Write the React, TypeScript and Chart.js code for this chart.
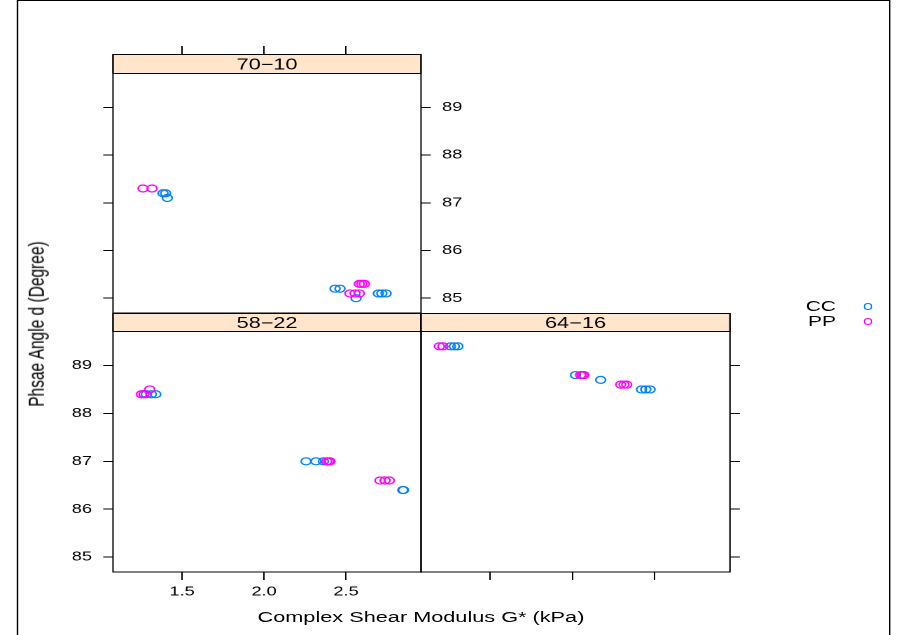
import React, { useEffect, useRef } from "react";
import { Chart, registerables } from "chart.js";

Chart.register(...registerables);

// ---------------- data ----------------
const panelNames = ["70\u221210", "58\u221222", "64\u221216"];
const seriesNames = ["CC", "PP"];
const seriesColors = ["#0080ff", "#ff00ff"];

const xTickValues = [1.5, 2.0, 2.5];
const xTickLabels = ["1.5", "2.0", "2.5"];
const yTickValues = [85, 86, 87, 88, 89];
const yTickLabels = ["85", "86", "87", "88", "89"];

const xRange = [1.079, 2.957];
const yRange = [84.69, 89.72];

const cc7010X = [1.384, 1.4, 1.41, 2.433, 2.463, 2.561, 2.697, 2.718, 2.744];
const cc7010Y = [87.2, 87.2, 87.1, 85.2, 85.2, 85.0, 85.1, 85.1, 85.1];
const pp7010X = [1.262, 1.317, 2.581, 2.596, 2.612, 2.524, 2.555, 2.581];
const pp7010Y = [87.3, 87.3, 85.3, 85.3, 85.3, 85.1, 85.1, 85.1];

const cc5822X = [1.282, 1.313, 1.34, 2.256, 2.317, 2.362, 2.846, 2.85];
const cc5822Y = [88.4, 88.4, 88.4, 87.0, 87.0, 87.0, 86.4, 86.4];
const pp5822X = [1.252, 1.268, 1.303, 2.382, 2.395, 2.402, 2.707, 2.738, 2.764];
const pp5822Y = [88.4, 88.4, 88.5, 87.0, 87.0, 87.0, 86.6, 86.6, 86.6];

const cc6416X = [1.258, 1.282, 1.303, 2.018, 2.171, 2.419, 2.445, 2.471];
const cc6416Y = [89.4, 89.4, 89.4, 88.8, 88.7, 88.5, 88.5, 88.5];
const pp6416X = [1.191, 1.212, 2.049, 2.06, 2.069, 2.293, 2.313, 2.329];
const pp6416Y = [89.4, 89.4, 88.8, 88.8, 88.8, 88.6, 88.6, 88.6];

// ---------------- layout ----------------
const SX = 1.4; // horizontal stretch of the whole figure
const W = 641;
const H = 635;
const FONT = '"Liberation Sans", Arial, Helvetica, sans-serif';
const TICK_X = 7; // horizontal tick length (internal px)
const TICK_Y = 8; // vertical tick length

type PanelCfg = {
  name: string;
  ccX: number[];
  ccY: number[];
  ppX: number[];
  ppY: number[];
  left: number;
  right: number;
  stripTop: number;
  stripBottom: number;
  bottom: number;
  xPos: "top" | "bottom";
  xLabels: boolean;
  yLeft: "none" | "ticks" | "labels";
  yRight: "none" | "ticks" | "labels";
};

const panels: PanelCfg[] = [
  {
    name: panelNames[0], ccX: cc7010X, ccY: cc7010Y, ppX: pp7010X, ppY: pp7010Y,
    left: 113, right: 421, stripTop: 54, stripBottom: 73, bottom: 313,
    xPos: "top", xLabels: false, yLeft: "ticks", yRight: "labels",
  },
  {
    name: panelNames[1], ccX: cc5822X, ccY: cc5822Y, ppX: pp5822X, ppY: pp5822Y,
    left: 113, right: 421, stripTop: 313, stripBottom: 331, bottom: 572,
    xPos: "bottom", xLabels: true, yLeft: "labels", yRight: "none",
  },
  {
    name: panelNames[2], ccX: cc6416X, ccY: cc6416Y, ppX: pp6416X, ppY: pp6416Y,
    left: 421, right: 730, stripTop: 313, stripBottom: 331, bottom: 572,
    xPos: "bottom", xLabels: false, yLeft: "none", yRight: "ticks",
  },
];

const stripPlugin = {
  id: "strip",
  afterDatasetsDraw(chart: any, _args: any, opts: any) {
    const { ctx, chartArea } = chart;
    const { left, right, top, bottom } = chartArea;
    const sh = opts.height;
    ctx.save();
    ctx.fillStyle = "#ffe5cc";
    ctx.fillRect(left, top, right - left, sh);
    ctx.strokeStyle = "#000";
    ctx.lineWidth = 1;
    ctx.strokeRect(left, top + 0.5, right - left, sh);
    ctx.strokeRect(left, top + 0.5, right - left, bottom - top - 0.5);
    ctx.fillStyle = "#000";
    ctx.font = `15.5px ${FONT}`;
    ctx.textAlign = "center";
    ctx.textBaseline = "middle";
    ctx.fillText(opts.text, (left + right) / 2, top + sh / 2 + 1.5);
    ctx.restore();
  },
};

function axisWidth(kind: string) {
  if (kind === "labels") return 44;
  if (kind === "ticks") return TICK_X;
  return 0;
}

function Panel({ cfg }: { cfg: PanelCfg }) {
  const ref = useRef<HTMLCanvasElement>(null);
  useEffect(() => {
    const canvas = ref.current!;
    const stripH = cfg.stripBottom - cfg.stripTop;
    const dataH = cfg.bottom - cfg.stripBottom;
    const yMax = yRange[1] + (stripH * (yRange[1] - yRange[0])) / dataH;
    const xH = cfg.xLabels ? 30 : TICK_Y;
    const leftPx = cfg.left / SX;
    const rightPx = cfg.right / SX;
    const padding = {
      left: leftPx - axisWidth(cfg.yLeft),
      right: W - rightPx - axisWidth(cfg.yRight),
      top: cfg.xPos === "top" ? cfg.stripTop - xH : cfg.stripTop,
      bottom: cfg.xPos === "bottom" ? H - cfg.bottom - xH : H - cfg.bottom,
    };
    const tickFont = { family: FONT, size: 13 };
    const yScale = (kind: string, position: "left" | "right") => ({
      type: "linear",
      position,
      display: kind !== "none",
      min: yRange[0],
      max: yMax,
      afterBuildTicks: (s: any) => {
        s.ticks = yTickValues.map((v) => ({ value: v }));
      },
      afterFit: (s: any) => {
        s.width = axisWidth(kind);
      },
      grid: {
        drawOnChartArea: false,
        drawTicks: true,
        tickLength: TICK_X,
        color: "#000",
        lineWidth: 1,
      },
      border: { display: false },
      ticks: {
        display: kind === "labels",
        color: "#000",
        font: tickFont,
        padding: 8,
        callback: (_v: any, i: number) => yTickLabels[i],
      },
    });
    const chart = new Chart(canvas, {
      type: "scatter",
      data: {
        datasets: [
          {
            label: seriesNames[0],
            data: cfg.ccX.map((x, i) => ({ x, y: cfg.ccY[i] })),
            borderColor: seriesColors[0],
            backgroundColor: "rgba(0,0,0,0)",
            pointBackgroundColor: "rgba(0,0,0,0)",
            pointBorderColor: seriesColors[0],
            pointRadius: 3.5,
            pointBorderWidth: 1.2,
            order: 1,
          },
          {
            label: seriesNames[1],
            data: cfg.ppX.map((x, i) => ({ x, y: cfg.ppY[i] })),
            borderColor: seriesColors[1],
            backgroundColor: "rgba(0,0,0,0)",
            pointBackgroundColor: "rgba(0,0,0,0)",
            pointBorderColor: seriesColors[1],
            pointRadius: 3.5,
            pointBorderWidth: 1.2,
            order: 0,
          },
        ],
      },
      options: {
        responsive: false,
        animation: false,
        devicePixelRatio: 2,
        events: [],
        layout: { padding },
        plugins: {
          legend: { display: false },
          tooltip: { enabled: false },
          strip: { height: stripH, text: cfg.name },
        } as any,
        scales: {
          x: {
            type: "linear",
            position: cfg.xPos,
            min: xRange[0],
            max: xRange[1],
            afterBuildTicks: (s: any) => {
              s.ticks = xTickValues.map((v) => ({ value: v }));
            },
            afterFit: (s: any) => {
              s.height = xH;
            },
            grid: {
              drawOnChartArea: false,
              drawTicks: true,
              tickLength: TICK_Y,
              color: "#000",
              lineWidth: 1,
            },
            border: { display: false },
            ticks: {
              display: cfg.xLabels,
              color: "#000",
              font: tickFont,
              padding: 4,
              maxRotation: 0,
              callback: (_v: any, i: number) => xTickLabels[i],
            },
          },
          y: yScale(cfg.yLeft, "left"),
          y2: yScale(cfg.yRight, "right"),
        } as any,
      },
      plugins: [stripPlugin],
    } as any);
    return () => chart.destroy();
  }, [cfg]);
  return (
    <canvas
      ref={ref}
      width={W}
      height={H}
      style={{ position: "absolute", left: 0, top: 0, width: W, height: H }}
    />
  );
}

export default function App() {
  return (
    <div
      style={{
        position: "fixed",
        left: 0,
        top: 0,
        width: W,
        height: H,
        transform: `scaleX(${SX})`,
        transformOrigin: "0 0",
        background: "#fff",
        fontFamily: FONT,
        overflow: "hidden",
      }}
    >
      <div
        style={{
          position: "absolute",
          left: 17 / SX,
          top: 0,
          width: (890 - 17) / SX,
          height: H + 10,
          border: "1px solid #000",
          boxSizing: "border-box",
        }}
      />
      {panels.map((p, i) => (
        <Panel key={i} cfg={p} />
      ))}
      <div
        style={{
          position: "absolute",
          left: 421 / SX,
          top: 617,
          transform: "translate(-50%, -50%)",
          fontSize: 15.5,
          whiteSpace: "nowrap",
          color: "#000",
        }}
      >
        Complex Shear Modulus G* (kPa)
      </div>
      <div
        style={{
          position: "absolute",
          left: 37 / SX,
          top: 324,
          transform: "translate(-50%, -50%) rotate(-90deg)",
          fontSize: 15.5,
          whiteSpace: "nowrap",
          color: "#000",
        }}
      >
        Phsae Angle d (Degree)
      </div>
      {seriesNames.map((s, i) => (
        <React.Fragment key={s}>
          <div
            style={{
              position: "absolute",
              right: W - 836 / SX,
              top: 306 + i * 15 - 9,
              fontSize: 15,
              lineHeight: "18px",
              color: "#000",
              textAlign: "right",
            }}
          >
            {s}
          </div>
          <div
            style={{
              position: "absolute",
              left: 868 / SX - 3.25,
              top: 306 + i * 15 - 3.5,
              width: 6.5,
              height: 7,
              borderRadius: "50%",
              border: `1.2px solid ${seriesColors[i]}`,
              boxSizing: "border-box",
            }}
          />
        </React.Fragment>
      ))}
    </div>
  );
}
